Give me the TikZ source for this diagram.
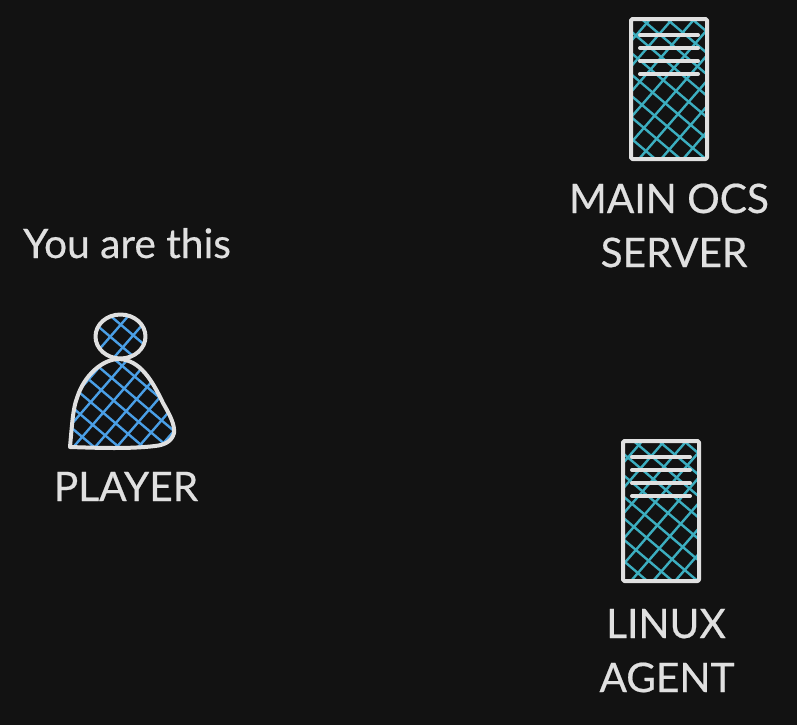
\documentclass[tikz,border=0pt]{standalone}
\usepackage{fontspec}
\setmainfont{Lato}[FakeBold=0.5]
\usepackage{tikz}
\definecolor{darkbg}{HTML}{121212}
\definecolor{inkwhite}{HTML}{E0E0E0}
\definecolor{hatchcyan}{HTML}{3CAEC0}
\definecolor{hatchblue}{HTML}{4A9FE6}
\tikzset{
  label/.style={font=\fontsize{30.5}{30.5}\selectfont, text=inkwhite, anchor=base, inner sep=0pt},
  outline/.style={draw=inkwhite, line width=3pt, line join=round},
  hatchline/.style={line width=1.8pt},
  rackline/.style={draw=inkwhite, line width=3pt, line cap=round}
}
% one server tower, top left corner of the first one is (631,19)
\newcommand{\serverbox}[2]{
  \begin{scope}[shift={(#1,#2)}]
    \begin{scope}
      \clip (631,19) rectangle (707,159);
      \foreach \i in {-6,...,6} {
        \draw[hatchline, hatchcyan] (620,43.4+\i*21.4) -- (720,128.4+\i*21.4);
        \draw[hatchline, hatchcyan] (620,155.4+\i*25.4) -- (720,40.4+\i*25.4);
      }
    \end{scope}
    \draw[outline, rounded corners=1pt] (631,19) rectangle (707,159);
    \foreach \y in {35,48,61,74} {
      \draw[rackline] (640,\y) -- (698,\y);
    }
  \end{scope}
}
\begin{document}
\begin{tikzpicture}[x=0.75pt, y=-0.75pt]
  \useasboundingbox (0,0) rectangle (797,725);
  \fill[darkbg] (0,0) rectangle (797,725);

  % servers
  \serverbox{0}{0}
  \serverbox{-8}{422}
  \node[label] (maintop) at (669,213) {MAIN OCS};
  \node[label] (mainbot) at (674,267) {SERVER};
  \node[label] (linuxtop) at (666,638) {LINUX};
  \node[label] (linuxbot) at (667,692) {AGENT};

  % player
  \begin{scope}
    \clip (120.5,336.5) ellipse (25 and 22);
    \foreach \i in {-2,...,3} {
      \draw[hatchline, hatchblue] (80,311+\i*21) -- (160,379+\i*21);
      \draw[hatchline, hatchblue] (80,371.5+\i*25) -- (160,279.5+\i*25);
    }
  \end{scope}
  \begin{scope}
    \clip (70,447) .. controls (72,425) and (73,408) .. (77,398)
      .. controls (84,375) and (103,359) .. (119,359)
      .. controls (140,360) and (152,380) .. (163,403)
      .. controls (170,415) and (175,425) .. (174,433)
      .. controls (172,441) and (165,445) .. (155,446)
      .. controls (130,449) and (100,448) .. (70,447) -- cycle;
    \foreach \i in {-6,...,3} {
      \draw[hatchline, hatchblue] (60,376+\i*21) -- (190,486.5+\i*21);
    }
    \foreach \i in {-5,...,5} {
      \draw[hatchline, hatchblue] (60,462.5+\i*25) -- (190,312.5+\i*25);
    }
  \end{scope}
  \draw[outline] (120.5,336.5) ellipse (25 and 22);
  \draw[outline] (70,447) .. controls (72,425) and (73,408) .. (77,398)
      .. controls (84,375) and (103,359) .. (119,359)
      .. controls (140,360) and (152,380) .. (163,403)
      .. controls (170,415) and (175,425) .. (174,433)
      .. controls (172,441) and (165,445) .. (155,446)
      .. controls (130,449) and (100,448) .. (70,447) -- cycle;
  \node[label] (youare) at (127,258) {You are this};
  \node[label] (player) at (126,501) {PLAYER};
\end{tikzpicture}
\end{document}
